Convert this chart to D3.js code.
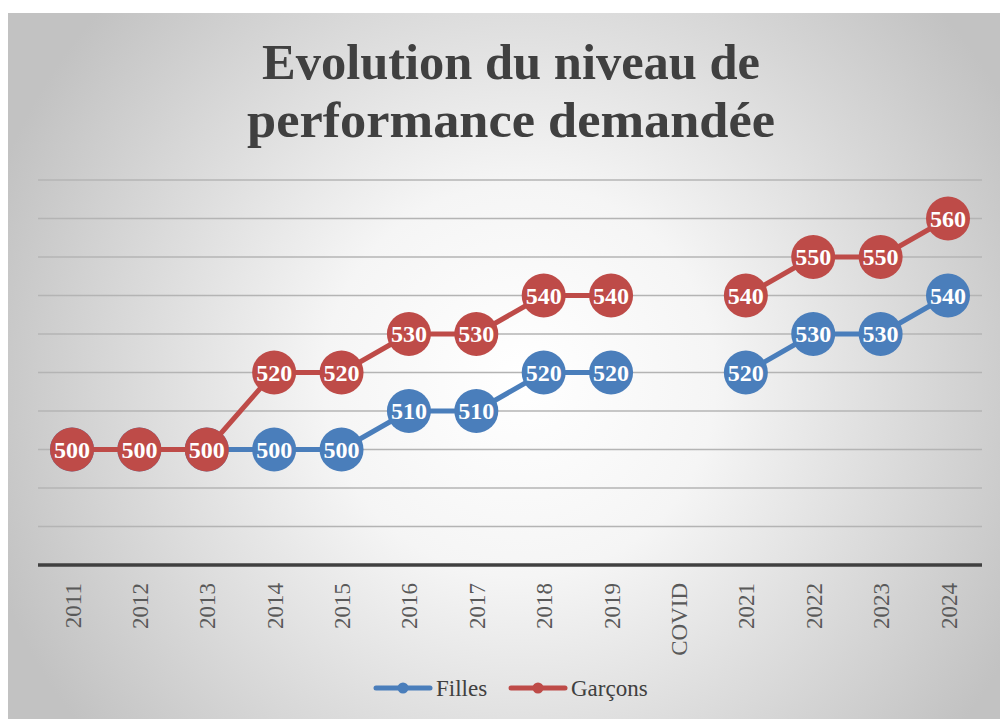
<!DOCTYPE html>
<html>
<head>
<meta charset="utf-8">
<script src="https://cdn.jsdelivr.net/npm/d3@7"></script>
<style>
  body { margin: 0; background: #fff; }
  svg { display: block; }
</style>
</head>
<body>
<svg></svg>
<script>
// donnees
var annees = ["2011", "2012", "2013", "2014", "2015", "2016", "2017", "2018", "2019", "COVID", "2021", "2022", "2023", "2024"];
var filles = [500, 500, 500, 500, 500, 510, 510, 520, 520, null, 520, 530, 530, 540];
var garcons = [500, 500, 500, 520, 520, 530, 530, 540, 540, null, 540, 550, 550, 560];
var yTicks = [470, 480, 490, 500, 510, 520, 530, 540, 550, 560, 570];

var W = 1000, H = 719;
var margin = { top: 180, right: 18, bottom: 154, left: 38 };

var svg = d3.select("svg")
    .attr("width", W)
    .attr("height", H);

// fond degrade
var defs = svg.append("defs");
var grad = defs.append("radialGradient")
    .attr("id", "fond")
    .attr("gradientUnits", "userSpaceOnUse")
    .attr("cx", 520).attr("cy", 380).attr("r", 560);
grad.append("stop").attr("offset", "0%").attr("stop-color", "#ffffff");
grad.append("stop").attr("offset", "35%").attr("stop-color", "#f5f5f5");
grad.append("stop").attr("offset", "100%").attr("stop-color", "#c2c2c2");

svg.append("rect")
    .attr("x", 8).attr("y", 13)
    .attr("width", W - 8).attr("height", H - 13)
    .attr("fill", "url(#fond)");

// titre
var titre = svg.append("text")
    .attr("text-anchor", "middle")
    .attr("font-family", "Liberation Serif, serif")
    .attr("font-weight", "bold")
    .attr("font-size", 50)
    .attr("fill", "#404040");
titre.append("tspan").attr("x", 511).attr("y", 79).attr("textLength", 498).attr("lengthAdjust", "spacingAndGlyphs").text("Evolution du niveau de");
titre.append("tspan").attr("x", 511).attr("y", 137).attr("textLength", 528).attr("lengthAdjust", "spacingAndGlyphs").text("performance demandée");

var x = d3.scalePoint()
    .domain(annees)
    .range([72, 948]);

var y = d3.scaleLinear()
    .domain([470, 570])
    .range([565, 180]);

// grille
svg.append("g").selectAll("line")
    .data(yTicks.slice(1))
    .enter().append("line")
    .attr("x1", margin.left).attr("x2", W - margin.right)
    .attr("y1", function(d) { return y(d); })
    .attr("y2", function(d) { return y(d); })
    .attr("stroke", "#b4b4b4")
    .attr("stroke-width", 1.3);

// axe x
var axeX = svg.append("g")
    .attr("transform", "translate(0," + y(470) + ")")
    .call(d3.axisBottom(x).tickSize(0).tickPadding(0));
axeX.select(".domain").remove();
axeX.append("line")
    .attr("x1", margin.left).attr("x2", W - margin.right)
    .attr("stroke", "#404040").attr("stroke-width", 3.5);
axeX.selectAll("text")
    .attr("font-family", "Liberation Serif, serif")
    .attr("font-size", 23)
    .attr("fill", "#595959")
    .attr("transform", "rotate(-90)")
    .attr("text-anchor", "end")
    .attr("x", -18)
    .attr("y", 0)
    .attr("dy", "0.35em");

var series = [
  { nom: "Filles", valeurs: filles, couleur: "#4a7ebb" },
  { nom: "Garçons", valeurs: garcons, couleur: "#be4b48" }
];

var ligne = d3.line()
    .defined(function(d) { return d.v != null; })
    .x(function(d) { return x(d.a); })
    .y(function(d) { return y(d.v); });

series.forEach(function(s) {
  var pts = annees.map(function(a, i) { return { a: a, v: s.valeurs[i] }; });
  var g = svg.append("g");
  g.append("path")
      .datum(pts)
      .attr("d", ligne)
      .attr("fill", "none")
      .attr("stroke", s.couleur)
      .attr("stroke-width", 5)
      .attr("stroke-linejoin", "round");
  var n = g.selectAll(".pt")
      .data(pts.filter(function(d) { return d.v != null; }))
      .enter().append("g")
      .attr("transform", function(d) { return "translate(" + x(d.a) + "," + y(d.v) + ")"; });
  n.append("circle")
      .attr("r", 22)
      .attr("fill", s.couleur);
  n.append("text")
      .attr("text-anchor", "middle")
      .attr("dy", "0.35em")
      .attr("font-family", "Liberation Serif, serif")
      .attr("font-weight", "bold")
      .attr("font-size", 24)
      .attr("fill", "#ffffff")
      .text(function(d) { return d.v; });
});

// legende
var leg = svg.append("g")
    .attr("transform", "translate(0,688)");
var legPos = [376, 511];
series.forEach(function(s, i) {
  var lg = leg.append("g").attr("transform", "translate(" + legPos[i] + ",0)");
  lg.append("line")
      .attr("x1", 0).attr("x2", 54)
      .attr("stroke", s.couleur).attr("stroke-width", 5)
      .attr("stroke-linecap", "round");
  lg.append("circle").attr("cx", 27).attr("r", 5.5).attr("fill", s.couleur);
  lg.append("text")
      .attr("x", 60)
      .attr("dy", "0.35em")
      .attr("font-family", "Liberation Serif, serif")
      .attr("font-size", 23)
      .attr("fill", "#404040")
      .text(s.nom);
});
</script>
</body>
</html>
